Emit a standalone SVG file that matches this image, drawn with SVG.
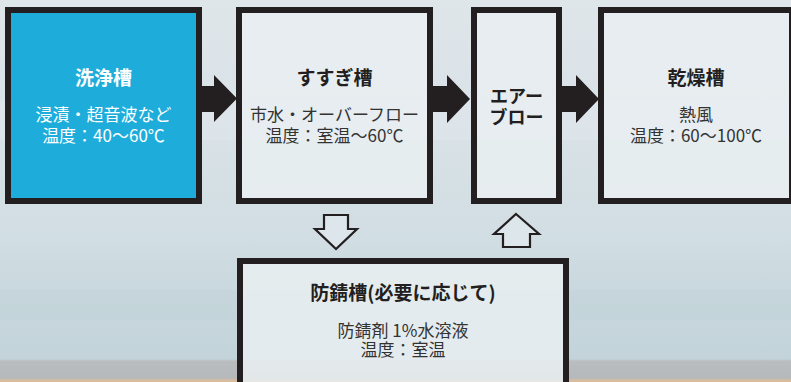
<svg xmlns="http://www.w3.org/2000/svg" width="791" height="382" viewBox="0 0 791 382">
  <defs>
    <linearGradient id="bg" x1="0" y1="0" x2="0" y2="1">
      <stop offset="0" stop-color="#dfe6ea"/>
      <stop offset="0.3" stop-color="#d9e2e7"/>
      <stop offset="0.6" stop-color="#d2dee3"/>
      <stop offset="0.78" stop-color="#c8d8de"/>
      <stop offset="0.94" stop-color="#c3d3da"/>
      <stop offset="0.945" stop-color="#babdbf"/>
      <stop offset="0.99" stop-color="#b6b9bb"/>
      <stop offset="0.995" stop-color="#d8bc9f"/>
      <stop offset="1" stop-color="#d8bc9f"/>
    </linearGradient>
    <style>
      .box { stroke: #231f20; stroke-width: 6; }
      .light { fill: #e8eef0; fill-opacity: 0.88; }
      .blue { fill: #1eaddb; }
      .solid { fill: #231f20; }
      .hollow { fill: #dde6ea; stroke: #231f20; stroke-width: 2.2; stroke-linejoin: miter; }
      text { font-family: "Noto Sans CJK JP", "Noto Sans", sans-serif; text-anchor: middle; }
      .title { font-size: 19px; font-weight: bold; fill: #231f20; }
      .title2 { font-size: 18px; font-weight: bold; fill: #231f20; }
      .body { font-size: 17px; fill: #333333; }
      .w { fill: #ffffff; }
    </style>
  </defs>
  <rect x="0" y="0" width="791" height="382" fill="url(#bg)"/>
  <rect x="0" y="100" width="791" height="40" fill="#ffffff" opacity="0.12"/>
  <rect x="0" y="290" width="791" height="30" fill="#b8ccd4" opacity="0.2"/>

  <g id="connectors">
    <polygon class="solid" points="202,86 214,86 214,75 237,98.5 214,122 214,112 202,112"/>
    <polygon class="solid" points="433,86 447,86 447,75 470,99 447,123 447,112 433,112"/>
    <polygon class="solid" points="562,86 576,86 576,75 599,99 576,123 576,112 562,112"/>
    <polygon class="hollow" points="324,215 348,215 348,229 357,229 336,249 315,229 324,229"/>
    <polygon class="hollow" points="516,214 539,234 530,234 530,247 503,247 503,234 494,234"/>
  </g>

  <g id="node-wash">
    <rect class="box blue" x="8" y="10" width="191" height="191"/>
    <text class="title w" x="103.5" y="85">洗浄槽</text>
    <text class="body w" x="103.5" y="120.5">浸漬・超音波など</text>
    <text class="body w" x="103.5" y="141.5">温度：40〜60℃</text>
  </g>

  <g id="node-rinse">
    <rect class="box light" x="239" y="10" width="191" height="191"/>
    <text class="title" x="334.5" y="85">すすぎ槽</text>
    <text class="body" x="334.5" y="120.5">市水・オーバーフロー</text>
    <text class="body" x="334.5" y="141.5">温度：室温〜60℃</text>
  </g>

  <g id="node-airblow">
    <rect class="box light" x="474" y="10" width="85" height="191"/>
    <text class="title2" x="516.5" y="102.5">エアー</text>
    <text class="title2" x="516.5" y="123.5">ブロー</text>
  </g>

  <g id="node-dry">
    <rect class="box light" x="601" y="10" width="191" height="191"/>
    <text class="title" x="696" y="85">乾燥槽</text>
    <text class="body" x="696" y="120.5">熱風</text>
    <text class="body" x="696" y="141.5">温度：60〜100℃</text>
  </g>

  <g id="node-rustproof">
    <rect class="box light" x="240" y="261" width="326" height="140"/>
    <text class="title" x="403" y="300">防錆槽(必要に応じて)</text>
    <text class="body" x="403" y="337">防錆剤 1%水溶液</text>
    <text class="body" x="403" y="356">温度：室温</text>
  </g>
</svg>
